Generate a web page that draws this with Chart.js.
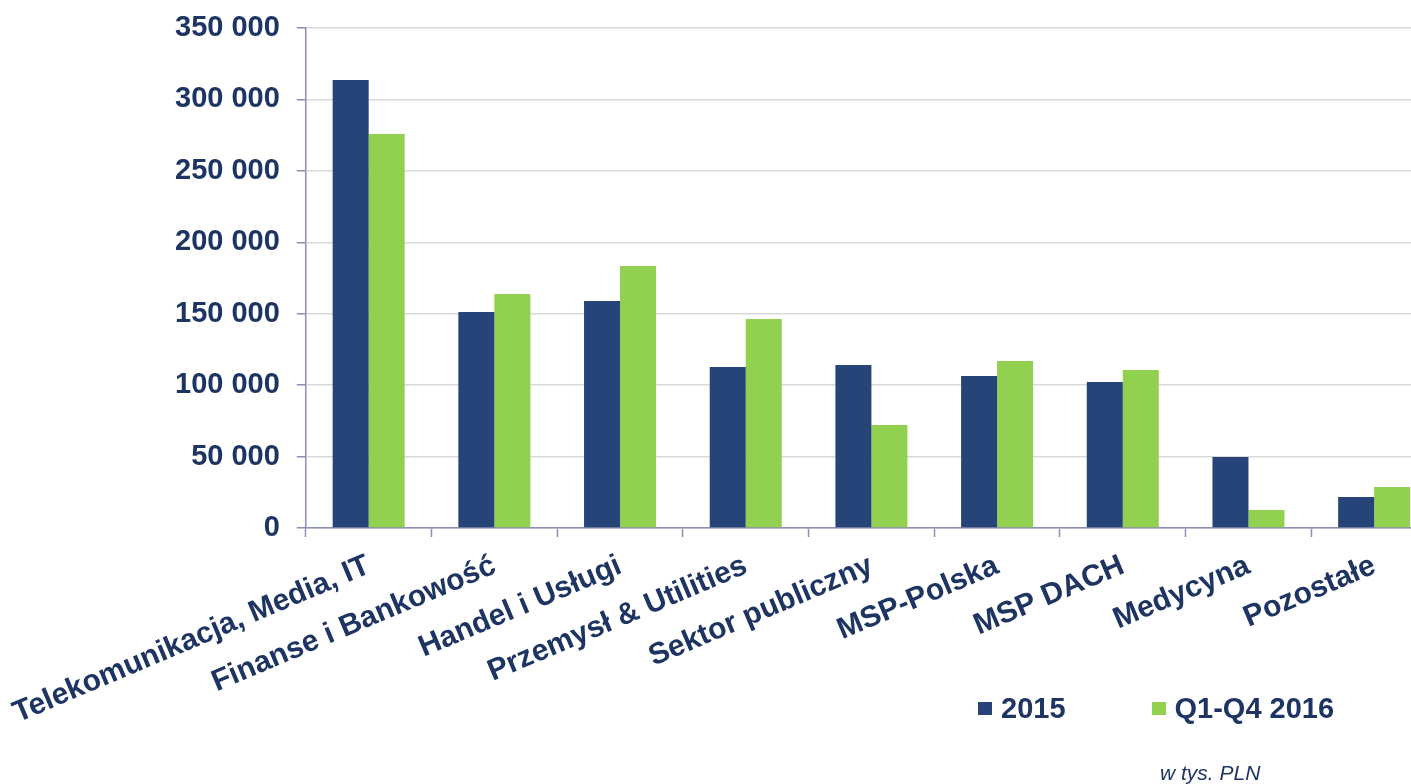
<!DOCTYPE html>
<html>
<head>
<meta charset="utf-8">
<script src="https://cdn.jsdelivr.net/npm/chart.js@4/dist/chart.umd.min.js"></script>
<style>
html, body { margin:0; padding:0; background:#fff; overflow:hidden; }
#wrap { position:relative; width:1440px; height:784px; }
#legenda { position:absolute; left:978px; top:689px; font:bold 29px "Liberation Sans", Arial, sans-serif; color:#1e3563; white-space:nowrap; }
#legenda .poz { display:inline-block; vertical-align:middle; }
#legenda .kw { display:inline-block; width:14px; height:13px; margin-right:9px; vertical-align:middle; }
#legenda .poz + .poz { margin-left:86px; }
#jednostka { position:absolute; left:1160px; top:761px; font:italic 21px "Liberation Sans", Arial, sans-serif; color:#1e3563; }
</style>
</head>
<body>
<div id="wrap">
  <canvas id="myChart" width="1440" height="784"></canvas>
  <div id="legenda"></div>
  <div id="jednostka">w tys. PLN</div>
</div>
<script>
// dane z wykresu (w tys. PLN)
var kategorie = ['Telekomunikacja, Media, IT', 'Finanse i Bankowość', 'Handel i Usługi', 'Przemysł & Utilities',
                 'Sektor publiczny', 'MSP-Polska', 'MSP DACH', 'Medycyna', 'Pozostałe'];
var serie = ['2015', 'Q1-Q4 2016'];
var dane2015 = [313600, 151200, 158900, 112700, 114100, 106400, 102200, 49700, 21700];
var dane2016 = [275800, 163800, 183400, 146300, 72100, 116900, 110600, 12600, 28700];
var osY = [0, 50000, 100000, 150000, 200000, 250000, 300000, 350000];

var kolory = ['#264478', '#92d050'];
var granat = '#1e3563';
var kolorOsi = '#8a8fb0';

function formatuj(v) {
	return v.toString().replace(/\B(?=(\d{3})+(?!\d))/g, ' ');
}

const myChart = new Chart(document.getElementById('myChart'), {
	type: 'bar',
	data: {
		labels: kategorie,
		datasets: [{
			label: serie[0],
			data: dane2015,
			backgroundColor: kolory[0],
			categoryPercentage: 0.573,
			barPercentage: 1.0
		}, {
			label: serie[1],
			data: dane2016,
			backgroundColor: kolory[1],
			categoryPercentage: 0.573,
			barPercentage: 1.0
		}]
	},
	options: {
		responsive: false,
		animation: false,
		layout: {
			padding: {left: 158, top: 28, right: 3, bottom: 41.6}
		},
		plugins: {
			legend: {display: false},
			tooltip: {enabled: false}
		},
		scales: {
			x: {
				// etykiety moga wychodzic w lewo poza os Y, jak w oryginale
				afterFit: function(axis) { axis.paddingLeft = 0; },
				grid: {
					offset: true,
					drawOnChartArea: false,
					tickLength: 9,
					tickColor: kolorOsi,
					tickWidth: 1.5
				},
				border: {color: kolorOsi, width: 1.5},
				ticks: {
					autoSkip: false,
					minRotation: 23,
					maxRotation: 23,
					padding: 11,
					color: granat,
					font: {family: '"Liberation Sans", Arial, sans-serif', size: 30, weight: 'bold'}
				}
			},
			y: {
				min: osY[0],
				max: osY[osY.length - 1],
				afterBuildTicks: function(axis) {
					axis.ticks = osY.map(function(v) { return {value: v}; });
				},
				afterFit: function(axis) { axis.paddingTop = 0; },
				grid: {
					color: '#d9d9d9',
					lineWidth: 1.5,
					tickLength: 9,
					tickColor: kolorOsi,
					tickWidth: 1.5
				},
				border: {color: kolorOsi, width: 1.5},
				ticks: {
					padding: 17,
					color: granat,
					font: {family: '"Liberation Sans", Arial, sans-serif', size: 29, weight: 'bold'},
					callback: function(v) { return formatuj(v); }
				}
			}
		}
	}
});

// legenda w HTML
var leg = document.getElementById('legenda');
myChart.data.datasets.forEach(function(ds) {
	var poz = document.createElement('span');
	poz.className = 'poz';
	var kw = document.createElement('span');
	kw.className = 'kw';
	kw.style.background = ds.backgroundColor;
	var t = document.createElement('span');
	t.textContent = ds.label;
	t.style.verticalAlign = 'middle';
	poz.appendChild(kw);
	poz.appendChild(t);
	leg.appendChild(poz);
});
</script>
</body>
</html>
